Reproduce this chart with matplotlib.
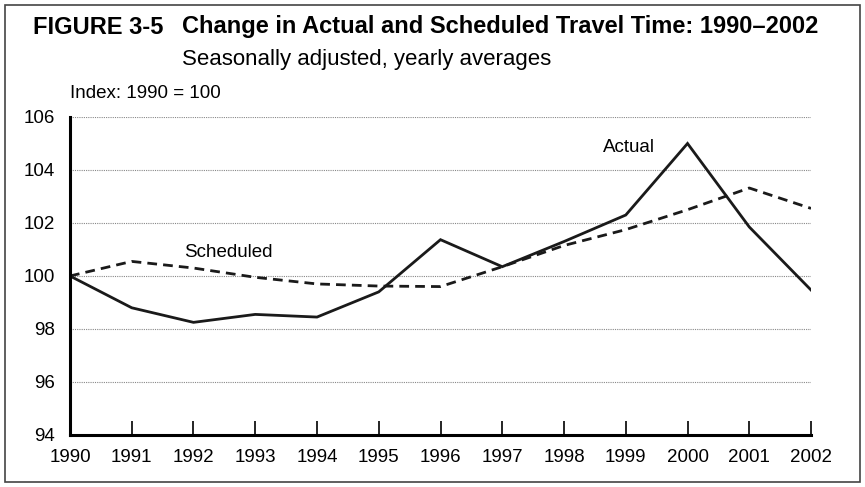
"""Change in actual and scheduled travel time, 1990-2002."""
import numpy as np
import matplotlib.pyplot as plt
import matplotlib as mpl
from matplotlib.patches import Rectangle

mpl.rcParams.update({"font.family": ["Liberation Sans", "DejaVu Sans"], "font.size": 13})

years = list(range(1990, 2003))
actual = [100.0, 98.8, 98.25, 98.55, 98.45, 99.4, 101.37, 100.35, 101.3, 102.3, 105.0, 101.85, 99.47]
scheduled = [100.0, 100.55, 100.3, 99.95, 99.7, 99.62, 99.6, 100.35, 101.15, 101.75, 102.5, 103.32, 102.55]
yticks = [94, 96, 98, 100, 102, 104, 106]

fig = plt.figure(figsize=(8.65, 4.87), dpi=100)
ax = fig.add_axes([0.0809, 0.1068, 0.8567, 0.653])

ax.plot(years, actual, color="#1a1a1a", lw=2.0, solid_joinstyle="miter")
ax.plot(years, scheduled, color="#1a1a1a", lw=2.0, ls=(0, (3.5, 2.2)))

ax.set_xlim(1990, 2002)
ax.set_ylim(94, 106)
ax.set_xticks(years)
ax.set_yticks(yticks)
ax.tick_params(axis="x", direction="in", length=10, width=1.2, pad=10, labelsize=13.5)
ax.tick_params(axis="y", length=0, pad=11, labelsize=13.5)
for s in ["top", "right"]:
    ax.spines[s].set_visible(False)
for s in ["left", "bottom"]:
    ax.spines[s].set_linewidth(2.2)
ax.set_axisbelow(True)
ax.grid(axis="y", color="#888888", ls=(0, (1, 1)), lw=0.8)

ax.text(1999.05, 104.83, "Actual", ha="center", va="center", fontsize=13.5)
ax.text(1992.56, 100.9, "Scheduled", ha="center", va="center", fontsize=13.5)

fig.text(33 / 865, 1 - 27 / 487, "FIGURE 3-5", weight="bold", fontsize=17, va="center")
fig.text(182 / 865, 1 - 27 / 487, "Change in Actual and Scheduled Travel Time: 1990\u20132002",
         weight="bold", fontsize=17, va="center")
fig.text(182 / 865, 1 - 59 / 487, "Seasonally adjusted, yearly averages", fontsize=16, va="center")
fig.text(70 / 865, 1 - 94 / 487, "Index: 1990 = 100", fontsize=13.5, va="center")

fig.patches.append(Rectangle((5 / 865, 5 / 487), 855 / 865, 477 / 487, transform=fig.transFigure,
                             fill=False, edgecolor="#444444", lw=1.2))

fig.savefig("out.png", dpi=100)
